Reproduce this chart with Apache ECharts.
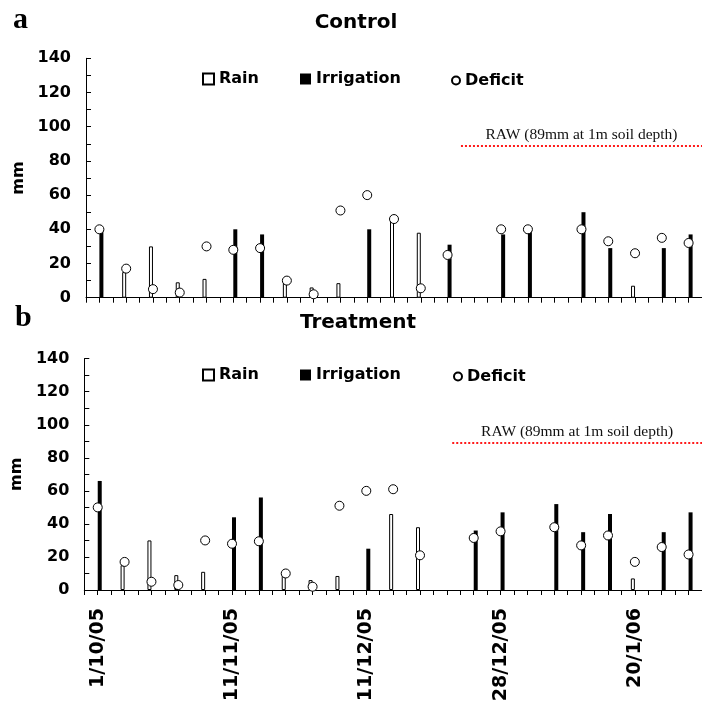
<!DOCTYPE html>
<html>
<head>
<meta charset="utf-8">
<script src="https://cdn.jsdelivr.net/npm/echarts@6/dist/echarts.min.js"></script>
<style>
  html, body { margin: 0; padding: 0; background: #fff; }
  #chart { width: 702px; height: 707px; }
</style>
</head>
<body>
<div id="chart"></div>
<script>
// one category per watering / rain event
const events = ['e1','e2','e3','e4','e5','e6','e7','e8','e9','e10','e11','e12',
  'e13','e14','e15','e16','e17','e18','e19','e20','e21','e22','e23'];
const dateLabels = ['1/10/05', '11/11/05', '11/12/05', '28/12/05', '20/1/06'];
const dateLabelIdx = [0, 5, 10, 15, 20];

const rain = [null, 15, 30, 9, 11, null, null, 11, 6, 8.5, null, 46, 38, null, null, null, null, null, null, null, 7, null, null];

const controlIrrigation = [40, null, null, null, null, 40, 37, null, null, null, 40, null, null, 31, null, 37, 40, null, 50, 29, null, 29, 37];
const controlDeficit = [40, 17, 5, 3, 30, 28, 29, 10, 2, 51, 60, 46, 5.5, 25, null, 40, 40, null, 40, 33, 26, 35, 32];

const treatmentIrrigation = [66, null, null, null, null, 44, 56, null, null, null, 25, null, null, null, 36, 47, null, 52, 35, 46, null, 35, 47];
const treatmentDeficit = [50, 17, 5, 3, 30, 28, 29.5, 10, 2, 51, 60, 61, 21, null, 31.5, 35.5, null, 38, 27, 33, 17, 26, 21.5];

const rawLevel = 89;
const rawLabel = 'RAW (89mm at 1m soil depth)';

const FONT = 'DejaVu Sans';
const chart = echarts.init(document.getElementById('chart'));

function catAxis(grid, showLabels) {
  return {
    type: 'category', gridIndex: grid, data: events, position: 'bottom',
    axisLine: { show: false }, axisTick: { show: false },
    axisLabel: {
      show: showLabels, interval: 0, rotate: 90, margin: 18,
      fontFamily: FONT, fontWeight: 'bold', fontSize: 19, color: '#000',
      formatter: (v, i) => {
        const k = dateLabelIdx.indexOf(i);
        return k >= 0 ? dateLabels[k] : '';
      }
    }
  };
}

function tickAxis(grid) {
  return {
    type: 'value', gridIndex: grid, min: 0, max: events.length, interval: 0.5,
    position: 'bottom',
    axisLine: { show: true, lineStyle: { color: '#000', width: 1 } },
    axisTick: { show: true, length: 5, lineStyle: { color: '#000' } },
    axisLabel: { show: false }, splitLine: { show: false }
  };
}

function yAxis(grid) {
  return {
    type: 'value', gridIndex: grid, min: 0, max: 140, interval: 10,
    name: 'mm', nameLocation: 'middle', nameRotate: 90, nameGap: 54,
    nameTextStyle: { fontFamily: FONT, fontWeight: 'bold', fontSize: 16, color: '#000' },
    axisLine: { show: true, lineStyle: { color: '#000' } },
    axisTick: { show: true, inside: true, length: 5, lineStyle: { color: '#000' } },
    axisLabel: {
      margin: 15, fontFamily: FONT, fontWeight: 'bold', fontSize: 16, color: '#000',
      formatter: v => (v % 20 === 0 ? String(v) : '')
    },
    splitLine: { show: false }
  };
}

function panelSeries(xCat, xTick, y, irrigation, deficit, rawStart) {
  return [
    {
      name: 'Rain', type: 'bar', xAxisIndex: xCat, yAxisIndex: y, data: rain,
      barWidth: 4, barGap: '0%',
      itemStyle: { color: '#fff', borderColor: '#000', borderWidth: 1 }
    },
    {
      name: 'Irrigation', type: 'bar', xAxisIndex: xCat, yAxisIndex: y, data: irrigation,
      barWidth: 4, barGap: '0%',
      itemStyle: { color: '#000' }
    },
    {
      name: 'Deficit', type: 'scatter', xAxisIndex: xCat, yAxisIndex: y, data: deficit,
      symbol: 'circle', symbolSize: 9, z: 5,
      itemStyle: { color: '#fff', borderColor: '#000', borderWidth: 1, opacity: 1 }
    },
    {
      name: 'RAW', type: 'line', xAxisIndex: xTick, yAxisIndex: y, data: [],
      markLine: {
        silent: true, symbol: 'none',
        lineStyle: { color: '#ff1a1a', type: [2, 2], width: 2 },
        label: {
          formatter: rawLabel, position: 'insideMiddleTop', distance: 3,
          fontFamily: 'Liberation Serif', fontSize: 15.5, color: '#111'
        },
        data: [[{ coord: [rawStart, rawLevel] }, { coord: [events.length, rawLevel] }]]
      }
    }
  ];
}

function legends(top, deficitLeft) {
  const txt = { fontFamily: FONT, fontWeight: 'bold', fontSize: 16, color: '#000' };
  return [
    {
      data: [
        { name: 'Rain', icon: 'rect' },
        { name: 'Irrigation', icon: 'rect' }
      ],
      left: 202, top: top, padding: 0, orient: 'horizontal',
      itemWidth: 11, itemHeight: 11, itemGap: 41, selectedMode: false, textStyle: txt
    },
    {
      data: [{ name: 'Deficit', icon: 'circle' }],
      left: deficitLeft, top: top + 1.5, padding: 0,
      itemWidth: 8, itemHeight: 8, selectedMode: false, textStyle: txt
    }
  ];
}

const option = {
  animation: false,
  backgroundColor: '#fff',
  grid: [
    { left: 86, top: 58.3, width: 616.4, height: 239.4 },
    { left: 84.3, top: 358.7, width: 624.5, height: 231.3 }
  ],
  legend: [...legends(71, 451), ...legends(367, 453)],
  xAxis: [catAxis(0, false), tickAxis(0), catAxis(1, true), tickAxis(1)],
  yAxis: [yAxis(0), yAxis(1)],
  series: [
    ...panelSeries(0, 1, 0, controlIrrigation, controlDeficit, 14),
    ...panelSeries(2, 3, 1, treatmentIrrigation, treatmentDeficit, 13.7)
  ],
  graphic: [
    { type: 'text', left: 13, top: 5, style: { text: 'a', font: 'bold 30px "Liberation Serif"', fill: '#000' } },
    { type: 'text', left: 15, top: 303, style: { text: 'b', font: 'bold 30px "Liberation Serif"', fill: '#000' } },
    { type: 'text', x: 356, y: 23, style: { text: 'Control', font: 'bold 20px "DejaVu Sans"', fill: '#000', textAlign: 'center', textVerticalAlign: 'middle' } },
    { type: 'text', x: 358, y: 323, style: { text: 'Treatment', font: 'bold 20px "DejaVu Sans"', fill: '#000', textAlign: 'center', textVerticalAlign: 'middle' } }
  ]
};

chart.setOption(option);
</script>
</body>
</html>
